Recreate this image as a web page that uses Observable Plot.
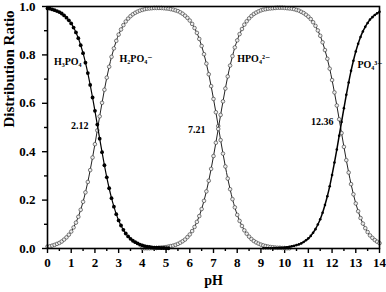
<!DOCTYPE html>
<html><head><meta charset="utf-8">
<script src="https://cdn.jsdelivr.net/npm/d3@7"></script>
<script src="https://cdn.jsdelivr.net/npm/@observablehq/plot@0.6"></script>
<style>body{margin:0;background:#fff}</style>
</head><body><div id="chart"></div>
<script>
// pH grid 0..14 step 0.1 (141 points)
const pH = Array.from({length: 141}, (_, i) => +(i * 0.1).toFixed(1));

const H3PO4 = [
  0.992,0.991,0.988,0.985,0.981,0.977,0.971,0.963,0.954,0.943, // 0
  0.930,0.913,0.893,0.869,0.840,0.807,0.768,0.725,0.676,0.624, // 1
  0.569,0.512,0.454,0.398,0.344,0.294,0.249,0.208,0.173,0.142, // 2
  0.116,0.095,0.077,0.062,0.050,0.040,0.032,0.026,0.021,0.016, // 3
  0.013,0.010,0.008,0.007,0.005,0.004,0.003,0.003,0.002,0.002, // 4
  0.001,0.001,0,0,0,0,0,0,0,0, // 5
  0,0,0,0,0,0,0,0,0,0, // 6
  0,0,0,0,0,0,0,0,0,0, // 7
  0,0,0,0,0,0,0,0,0,0, // 8
  0,0,0,0,0,0,0,0,0,0, // 9
  0,0,0,0,0,0,0,0,0,0, // 10
  0,0,0,0,0,0,0,0,0,0, // 11
  0,0,0,0,0,0,0,0,0,0, // 12
  0,0,0,0,0,0,0,0,0,0, // 13
  0];

const H2PO4 = [
  0.008,0.009,0.012,0.015,0.019,0.023,0.029,0.037,0.046,0.057, // 0
  0.070,0.087,0.107,0.131,0.160,0.193,0.232,0.275,0.324,0.376, // 1
  0.431,0.488,0.546,0.602,0.656,0.706,0.751,0.792,0.827,0.858, // 2
  0.884,0.905,0.923,0.938,0.950,0.960,0.968,0.974,0.979,0.983, // 3
  0.986,0.989,0.991,0.992,0.993,0.994,0.994,0.994,0.994,0.993, // 4
  0.992,0.991,0.989,0.987,0.984,0.981,0.976,0.970,0.962,0.953, // 5
  0.942,0.928,0.911,0.891,0.866,0.837,0.803,0.764,0.720,0.671, // 6
  0.618,0.563,0.506,0.448,0.392,0.339,0.289,0.245,0.204,0.170, // 7
  0.139,0.114,0.093,0.075,0.061,0.049,0.039,0.031,0.025,0.020, // 8
  0.016,0.013,0.010,0.008,0.006,0.005,0.004,0.003,0.003,0.002, // 9
  0.002,0.001,0.001,0,0,0,0,0,0,0, // 10
  0,0,0,0,0,0,0,0,0,0, // 11
  0,0,0,0,0,0,0,0,0,0, // 12
  0,0,0,0,0,0,0,0,0,0, // 13
  0];

const HPO4 = [
  0,0,0,0,0,0,0,0,0,0, // 0
  0,0,0,0,0,0,0,0,0,0, // 1
  0,0,0,0,0,0,0,0,0,0, // 2
  0,0,0,0,0,0,0,0,0,0, // 3
  0.001,0.001,0.001,0.001,0.002,0.002,0.002,0.003,0.004,0.005, // 4
  0.006,0.008,0.010,0.012,0.015,0.019,0.024,0.030,0.037,0.047, // 5
  0.058,0.072,0.089,0.110,0.134,0.163,0.197,0.236,0.280,0.329, // 6
  0.382,0.437,0.494,0.552,0.608,0.661,0.711,0.756,0.795,0.831, // 7
  0.860,0.886,0.907,0.925,0.939,0.951,0.961,0.969,0.975,0.980, // 8
  0.984,0.987,0.989,0.991,0.992,0.993,0.994,0.995,0.995,0.995, // 9
  0.994,0.993,0.992,0.991,0.989,0.986,0.983,0.978,0.973,0.966, // 10
  0.958,0.948,0.935,0.920,0.901,0.879,0.852,0.820,0.784,0.743, // 11
  0.696,0.645,0.591,0.534,0.477,0.420,0.365,0.314,0.266,0.224, // 12
  0.186,0.154,0.126,0.103,0.084,0.068,0.054,0.044,0.035,0.028, // 13
  0.022];

const PO4 = [
  0,0,0,0,0,0,0,0,0,0, // 0
  0,0,0,0,0,0,0,0,0,0, // 1
  0,0,0,0,0,0,0,0,0,0, // 2
  0,0,0,0,0,0,0,0,0,0, // 3
  0,0,0,0,0,0,0,0,0,0, // 4
  0,0,0,0,0,0,0,0,0,0, // 5
  0,0,0,0,0,0,0,0,0,0, // 6
  0,0,0,0,0,0,0,0,0,0, // 7
  0,0,0,0,0,0,0,0,0,0, // 8
  0,0.001,0.001,0.001,0.001,0.001,0.002,0.002,0.003,0.003, // 9
  0.004,0.005,0.007,0.009,0.011,0.014,0.017,0.021,0.027,0.034, // 10
  0.042,0.052,0.065,0.080,0.099,0.121,0.148,0.180,0.216,0.257, // 11
  0.304,0.355,0.409,0.466,0.523,0.580,0.635,0.686,0.734,0.776, // 12
  0.814,0.846,0.874,0.897,0.916,0.932,0.946,0.956,0.965,0.972, // 13
  0.978];

const xTicks = [0,1,2,3,4,5,6,7,8,9,10,11,12,13,14];
const xMinor = [0.5,1.5,2.5,3.5,4.5,5.5,6.5,7.5,8.5,9.5,10.5,11.5,12.5,13.5];
const yTicks = [0,0.2,0.4,0.6,0.8,1.0];
const yMinor = [0.1,0.3,0.5,0.7,0.9];

const series = (name, vals) => pH.map((p, i) => ({pH: p, v: vals[i], name})).filter(d => d.v > 0);
const s1 = series("H3PO4", H3PO4), s2 = series("H2PO4", H2PO4),
      s3 = series("HPO4", HPO4), s4 = series("PO4", PO4);

const font = "Liberation Serif, Times New Roman, DejaVu Serif, serif";

const chart = Plot.plot({
  width: 386, height: 292,
  marginLeft: 47, marginRight: 7, marginTop: 6, marginBottom: 44,
  style: {fontFamily: font, fontWeight: "bold", fontSize: "13px", color: "black", background: "white"},
  x: {domain: [0, 14]},
  y: {domain: [0, 1]},
  marks: [
    Plot.axisX(xTicks, {tickSize: 5, tickPadding: 4, tickFormat: "d", label: null, fontSize: 13, strokeWidth: 1.4}),
    Plot.axisX(xMinor, {tickSize: 3, tickFormat: () => "", label: null, strokeWidth: 1.4}),
    Plot.axisY(yTicks, {tickSize: 5, tickPadding: 7, tickFormat: ".1f", label: null, fontSize: 13, strokeWidth: 1.4}),
    Plot.axisY(yMinor, {tickSize: 3, tickFormat: () => "", label: null, strokeWidth: 1.4}),
    Plot.line(s2, {x: "pH", y: "v", stroke: "#222", strokeWidth: 1, curve: "catmull-rom"}),
    Plot.dot(s2, {x: "pH", y: "v", r: 1.8, stroke: "#444", strokeWidth: 0.7, fill: "#eee"}),
    Plot.line(s3, {x: "pH", y: "v", stroke: "#222", strokeWidth: 1, curve: "catmull-rom"}),
    Plot.dot(s3, {x: "pH", y: "v", r: 1.8, stroke: "#444", strokeWidth: 0.7, fill: "#eee"}),
    Plot.line(s1, {x: "pH", y: "v", stroke: "#000", strokeWidth: 1.2, curve: "catmull-rom"}),
    Plot.dot(s1, {x: "pH", y: "v", r: 1.9, fill: "#000"}),
    Plot.line(s4, {x: "pH", y: "v", stroke: "#000", strokeWidth: 1.5, curve: "catmull-rom"}),
    Plot.dot(s4, {x: "pH", y: "v", r: 1.3, fill: "#000"}),
    Plot.frame({stroke: "#000", strokeWidth: 1.6}),
    // species labels
    Plot.text(["H₃PO₄"], {x: 0.27, y: 0.77, textAnchor: "start", fontSize: 10}),
    Plot.text(["H₂PO₄⁻"], {x: 3.04, y: 0.785, textAnchor: "start", fontSize: 10}),
    Plot.text(["HPO₄²⁻"], {x: 8.0, y: 0.785, textAnchor: "start", fontSize: 10}),
    Plot.text(["PO₄³⁻"], {x: 13.07, y: 0.76, textAnchor: "start", fontSize: 10}),
    // pKa labels
    Plot.text(["2.12"], {x: 1.73, y: 0.508, textAnchor: "end", fontSize: 10}),
    Plot.text(["7.21"], {x: 6.66, y: 0.49, textAnchor: "end", fontSize: 10}),
    Plot.text(["12.36"], {x: 12.06, y: 0.525, textAnchor: "end", fontSize: 10}),
    // axis titles
    Plot.text(["pH"], {frameAnchor: "bottom", dy: 36, fontSize: 14}),
    Plot.text(["Distribution Ratio"], {frameAnchor: "left", rotate: -90, dx: -38, fontSize: 15})
  ]
});
document.getElementById("chart").appendChild(chart);
</script>
</body></html>
